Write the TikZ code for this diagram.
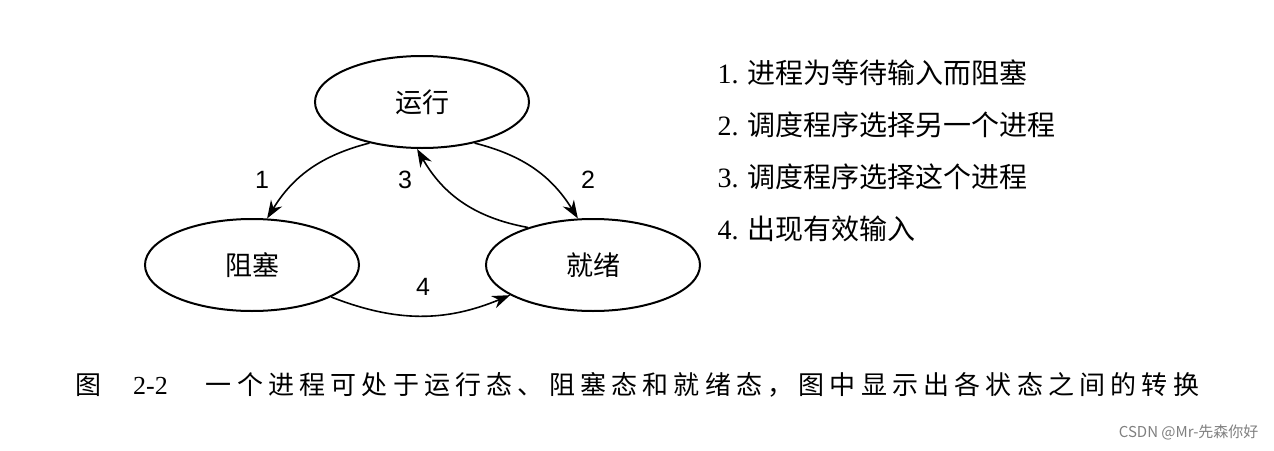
\documentclass[tikz,border=0pt]{standalone}
\usepackage{fontspec}
\setmainfont{Liberation Serif}
\setsansfont{Liberation Sans}
\newfontfamily\cjk{Noto Sans CJK SC}
\newfontfamily\cjkcap[LetterSpace=20]{Noto Sans CJK SC}
\usetikzlibrary{arrows.meta,shapes.geometric}
\begin{document}
\begin{tikzpicture}[x=1pt,y=-1pt,
  st/.style={draw,ellipse,line width=2pt,minimum width=214pt,minimum height=92pt,inner sep=0pt,font=\cjk\fontsize{27}{30}\selectfont},
  arr/.style={line width=1.6pt,-{Stealth[length=18pt,width=13pt]}},
  num/.style={font=\sffamily\fontsize{25}{28}\selectfont},
  li/.style={anchor=west,font=\fontsize{28}{30}\selectfont}]
\useasboundingbox[fill=white] (0,0) rectangle (1274,450);
\node[st] (run) at (422,102) {运行};
\node[st] (blk) at (252,265) {阻塞};
\node[st] (rdy) at (593,265) {就绪};
\draw[arr] (run.218) to[bend right=22] (blk.72);
\draw[arr] (run.322) to[bend left=22] (rdy.108);
\draw[arr] (rdy.150) to[bend left=25] (run.264);
\draw[arr] (blk.-22) to[bend right=22] (rdy.200);
\node[num] (n1) at (262,180) {1};
\node[num] (n2) at (588,180) {2};
\node[num] (n3) at (405,180) {3};
\node[num] (n4) at (423,287) {4};
\node[li] (l1) at (714,73) {1. {\cjk 进程为等待输入而阻塞}};
\node[li] (l2) at (714,125) {2. {\cjk 调度程序选择另一个进程}};
\node[li] (l3) at (714,177) {3. {\cjk 调度程序选择这个进程}};
\node[li] (l4) at (714,229) {4. {\cjk 出现有效输入}};
\node[anchor=west,inner sep=0pt,font=\fontsize{26}{28}\selectfont] (cap) at (75,385) {{\cjk 图}\hspace{32pt}2-2\hspace{38pt}{\cjkcap 一个进程可处于运行态、阻塞态和就绪态，图中显示出各状态之间的转换}};
\node[anchor=east,text=gray,font=\cjk\fontsize{15}{18}\selectfont] (wm) at (1262,432) {CSDN @Mr-先森你好};
\end{tikzpicture}
\end{document}
